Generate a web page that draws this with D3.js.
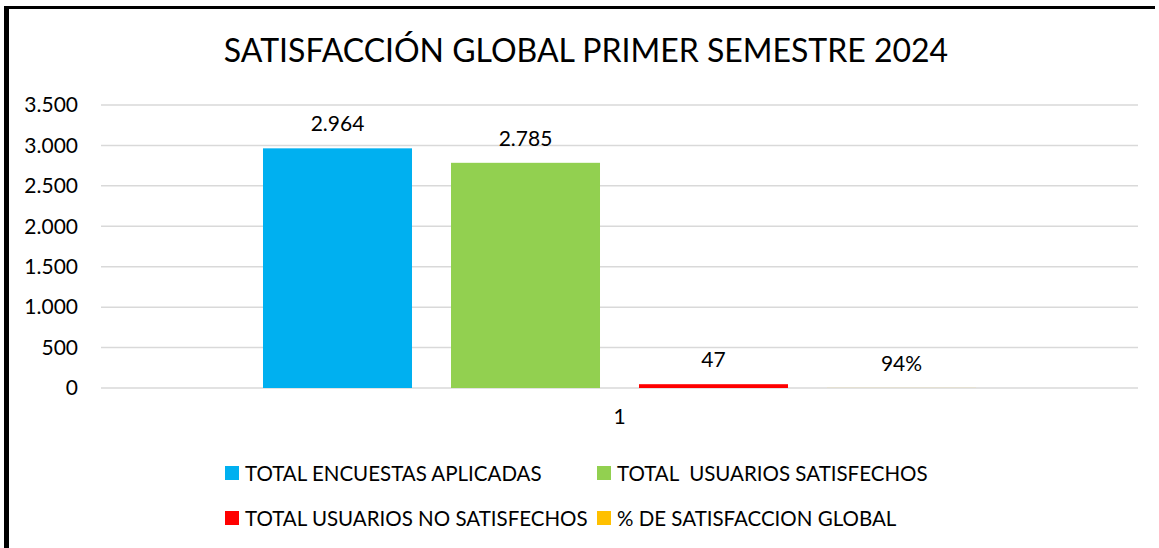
<!DOCTYPE html>
<html>
<head>
<meta charset="utf-8">
<script src="https://cdn.jsdelivr.net/npm/d3@7"></script>
<style>
  body { margin: 0; background: #fff; }
  text { font-family: Lato, "Noto Sans", sans-serif; fill: #000; }
</style>
</head>
<body>
<div id="chart"></div>
<script>
var title = "SATISFACCIÓN GLOBAL PRIMER SEMESTRE 2024";
var categories = ["1"];
var seriesNames = ["TOTAL ENCUESTAS APLICADAS", "TOTAL  USUARIOS SATISFECHOS",
                   "TOTAL USUARIOS NO SATISFECHOS", "% DE SATISFACCION GLOBAL"];
var seriesValues = [2964, 2785, 47, 0.94];
var seriesLabels = ["2.964", "2.785", "47", "94%"];
var seriesColors = ["#00b0f0", "#92d050", "#ff0000", "#ffc000"];
var yTicks = [0, 500, 1000, 1500, 2000, 2500, 3000, 3500];

var width = 1159, height = 548;
var plot = {left: 101, right: 1138, top: 105, bottom: 388};

var svg = d3.select("#chart").append("svg")
    .attr("width", width)
    .attr("height", height);

// chart border (only top and left visible)
svg.append("line").attr("x1", 4).attr("x2", 1155).attr("y1", 7.5).attr("y2", 7.5)
    .attr("stroke", "#000").attr("stroke-width", 3);
svg.append("line").attr("x1", 6.5).attr("x2", 6.5).attr("y1", 6).attr("y2", height)
    .attr("stroke", "#000").attr("stroke-width", 5);

var y = d3.scaleLinear().domain([0, 3500]).range([plot.bottom, plot.top]);

var x0 = d3.scaleBand().domain(categories)
    .range([plot.left, plot.right])
    .paddingInner(0).paddingOuter(0.2272);

var x1 = d3.scaleBand().domain(seriesNames)
    .range([0, x0.bandwidth()])
    .paddingInner(0.2074).paddingOuter(0);

// gridlines
svg.append("g").selectAll("line")
    .data(yTicks)
    .enter().append("line")
    .attr("x1", plot.left).attr("x2", plot.right)
    .attr("y1", function(d) { return y(d); })
    .attr("y2", function(d) { return y(d); })
    .attr("stroke", "#d9d9d9")
    .attr("stroke-width", 1.5);

// y axis labels
var yAxis = d3.axisLeft(y).tickValues(yTicks).tickSize(0).tickPadding(0)
    .tickFormat(function(d) { return d3.format(",")(d).replace(/,/g, "."); });
var yg = svg.append("g").attr("transform", "translate(78,0)").call(yAxis);
yg.select(".domain").remove();
yg.selectAll("text").style("font-size", "21px").attr("font-family", null);

// x axis label
var xAxis = d3.axisBottom(x0).tickSize(0).tickPadding(0);
var xg = svg.append("g").attr("transform", "translate(0," + (plot.bottom + 21) + ")").call(xAxis);
xg.select(".domain").remove();
xg.selectAll("text").style("font-size", "21px").attr("font-family", null);

// bars
var data = seriesNames.map(function(n, i) {
    return {name: n, value: seriesValues[i], label: seriesLabels[i], color: seriesColors[i]};
});

var group = svg.append("g")
    .attr("transform", "translate(" + x0(categories[0]) + ",0)");

group.selectAll("rect")
    .data(data)
    .enter().append("rect")
    .attr("x", function(d) { return x1(d.name); })
    .attr("y", function(d) { return y(d.value); })
    .attr("width", x1.bandwidth())
    .attr("height", function(d) { return y(0) - y(d.value); })
    .attr("fill", function(d) { return d.color; });

group.selectAll(".lbl")
    .data(data)
    .enter().append("text")
    .attr("class", "lbl")
    .attr("x", function(d) { return x1(d.name) + x1.bandwidth() / 2; })
    .attr("y", function(d) { return y(d.value) - 17; })
    .attr("text-anchor", "middle")
    .style("font-size", "21px")
    .text(function(d) { return d.label; });

// title
svg.append("text")
    .attr("x", 586).attr("y", 62)
    .attr("text-anchor", "middle")
    .style("font-size", "32px")
    .text(title);

// legend
var legendPos = [[225, 473], [597, 473], [225, 518], [597, 518]];
var lg = svg.append("g").selectAll("g")
    .data(data)
    .enter().append("g")
    .attr("transform", function(d, i) { return "translate(" + legendPos[i][0] + "," + legendPos[i][1] + ")"; });

lg.append("rect").attr("x", 0).attr("y", -7).attr("width", 14).attr("height", 14)
    .attr("fill", function(d) { return d.color; });
lg.append("text").attr("x", 20).attr("y", 7.5)
    .style("font-size", "20.5px")
    .style("white-space", "pre")
    .text(function(d) { return d.name; });
</script>
</body>
</html>
